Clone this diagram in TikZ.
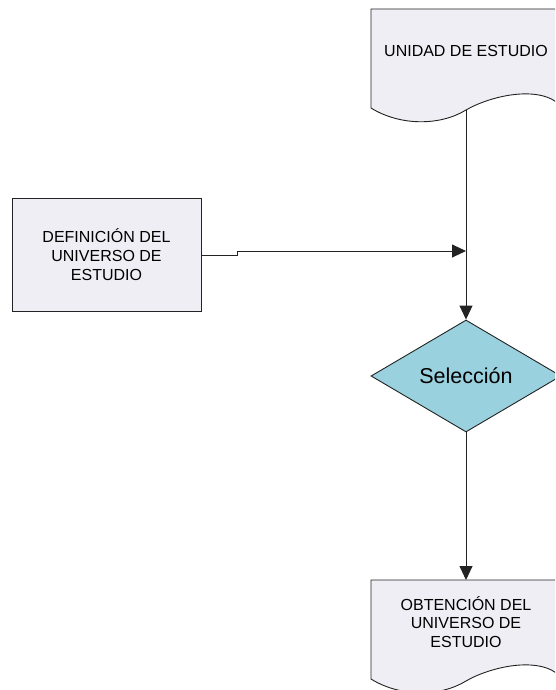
\documentclass[tikz,border=0pt]{standalone}
\usepackage{fontspec}
\setmainfont{Liberation Sans}
\usetikzlibrary{shapes.geometric,arrows.meta}
\definecolor{docfill}{RGB}{239,238,244}
\definecolor{decfill}{RGB}{153,209,222}
\definecolor{edge}{RGB}{35,35,35}
\tikzset{
  outline/.style={draw=edge,line width=0.9pt},
  label/.style={align=center,font=\fontsize{16}{18.8}\selectfont,inner sep=0pt},
  flow/.style={draw=edge,line width=0.9pt,-{Triangle[length=14pt,width=13pt]}},
}
\begin{document}
\begin{tikzpicture}[x=1pt,y=-1pt]
\clip (0,0) rectangle (555,690);
\fill[white] (0,0) rectangle (555,690);

% document symbol: input unit
\path[outline,fill=docfill] (371,9) -- (561,9) -- (561,106)
  .. controls (540,84) and (490,96) .. (466,110)
  .. controls (440,126) and (400,126) .. (371,108) -- cycle;
\node[label] (unidad) at (466,51) {UNIDAD DE ESTUDIO};
\coordinate (unidadout) at (466,110);

% process box
\node[outline,fill=docfill,minimum width=189pt,minimum height=113pt,
      label] (definicion) at (106.5,254.5)
      {DEFINICIÓN DEL\\UNIVERSO DE\\ESTUDIO};

% decision
\node[outline,fill=decfill,diamond,aspect=1.7,minimum width=190pt,
      minimum height=112pt,inner sep=0pt,
      font=\fontsize{21.5}{24}\selectfont] (seleccion) at (466,376) {Selección};

% document symbol: output
\path[outline,fill=docfill] (371,580) -- (561,580) -- (561,677)
  .. controls (540,655) and (490,667) .. (466,681)
  .. controls (440,697) and (400,697) .. (371,679) -- cycle;
\node[label] (obtencion) at (466,622) {OBTENCIÓN DEL\\UNIVERSO DE\\ESTUDIO};
\coordinate (obtencionin) at (466,580);

% connectors
\coordinate (join) at (466,251);
\draw[flow] (unidadout) -- (seleccion.north);
\draw[flow] (definicion.east |- 0,255) -- (237,255) -- (237,251) -- (join);
\draw[flow] (seleccion.south) -- (obtencionin);
\end{tikzpicture}
\end{document}
